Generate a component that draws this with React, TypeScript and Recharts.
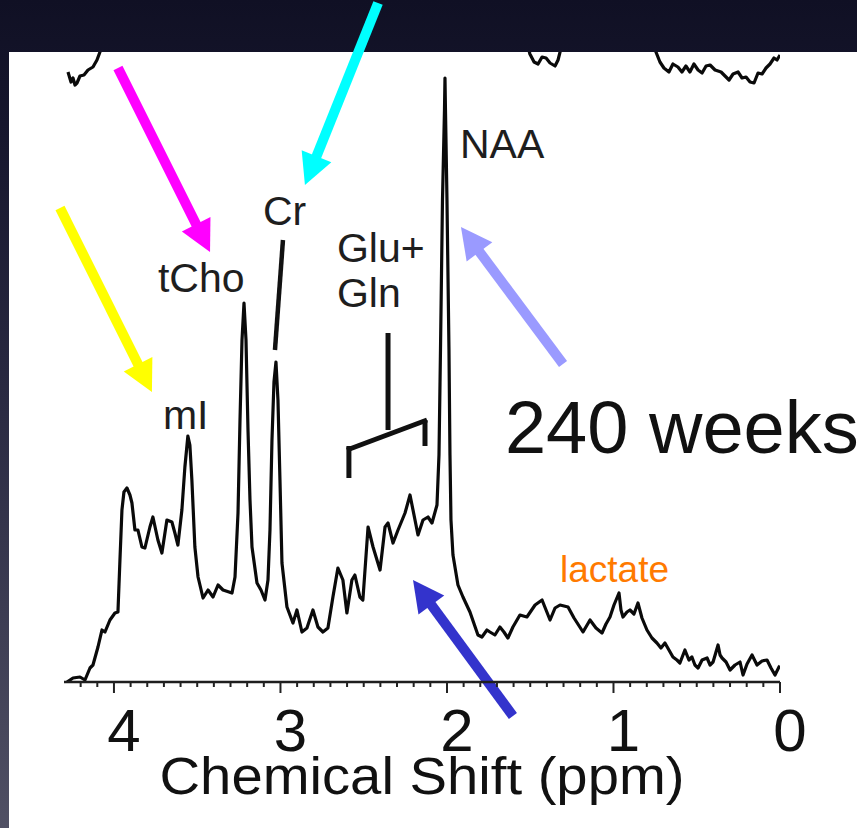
import React from "react";
import { LineChart, Line, XAxis, YAxis, ReferenceLine, ReferenceDot } from "recharts";

const FONT = "'Liberation Sans', Arial, Helvetica, sans-serif";

// 240-week spectrum (chemical shift in ppm, intensity in arbitrary units)
const mainPpm = [
  4.282, 4.246, 4.204, 4.174, 4.144, 4.126, 4.096, 4.072, 4.054, 4.024, 3.994, 3.976, 3.964, 3.952, 3.94, 3.922,
  3.904, 3.892, 3.874, 3.856, 3.832, 3.814, 3.784, 3.766, 3.736, 3.712, 3.682, 3.652, 3.634, 3.616, 3.592, 3.574,
  3.556, 3.544, 3.532, 3.514, 3.495, 3.465, 3.435, 3.405, 3.375, 3.345, 3.291, 3.273, 3.255, 3.243, 3.231, 3.219,
  3.207, 3.195, 3.183, 3.171, 3.141, 3.117, 3.093, 3.075, 3.063, 3.051, 3.039, 3.027, 3.015, 3.003, 2.991, 2.961,
  2.925, 2.901, 2.871, 2.841, 2.805, 2.775, 2.745, 2.715, 2.685, 2.655, 2.625, 2.601, 2.571, 2.553, 2.523, 2.505,
  2.474, 2.444, 2.402, 2.372, 2.354, 2.324, 2.294, 2.252, 2.222, 2.174, 2.144, 2.114, 2.09, 2.06, 2.048, 2.039,
  2.027, 2.015, 2.012, 2.009, 2.0, 1.988, 1.982, 1.976, 1.964, 1.934, 1.904, 1.862, 1.814, 1.79, 1.76, 1.742,
  1.712, 1.682, 1.658, 1.634, 1.604, 1.562, 1.52, 1.471, 1.429, 1.405, 1.381, 1.351, 1.321, 1.273, 1.237, 1.183,
  1.141, 1.105, 1.069, 1.045, 1.021, 0.997, 0.967, 0.955, 0.943, 0.919, 0.901, 0.877, 0.853, 0.829, 0.799, 0.769,
  0.739, 0.715, 0.691, 0.667, 0.643, 0.619, 0.601, 0.571, 0.547, 0.529, 0.511, 0.492, 0.468, 0.438, 0.42, 0.402,
  0.372, 0.36, 0.348, 0.324, 0.3, 0.27, 0.24, 0.222, 0.198, 0.168, 0.138, 0.108, 0.078, 0.054, 0.03, 0.006, 0.0,
];
const mainIntensity = [
  0, 4, 5, 2, 14, 17, 35, 52, 50, 62, 69, 70, 122, 172, 190, 194,
  187, 179, 152, 152, 135, 134, 155, 165, 142, 129, 162, 160, 149, 137, 172, 215,
  246, 237, 202, 135, 105, 84, 92, 85, 97, 92, 89, 105, 169, 262, 342, 379,
  342, 252, 182, 135, 99, 92, 82, 102, 152, 242, 300, 320, 282, 202, 119, 75,
  59, 72, 50, 54, 72, 55, 50, 54, 85, 114, 102, 69, 102, 107, 85, 82,
  155, 135, 112, 155, 159, 139, 152, 169, 187, 147, 162, 165, 159, 177, 227, 332,
  482, 572, 604, 572, 482, 332, 227, 162, 127, 97, 85, 70, 47, 45, 52, 50,
  47, 55, 50, 44, 55, 67, 65, 77, 82, 72, 62, 74, 77, 75, 64, 50,
  62, 54, 49, 58, 65, 77, 89, 72, 65, 70, 72, 68, 79, 64, 52, 44,
  39, 34, 39, 32, 25, 22, 19, 32, 22, 25, 17, 14, 22, 24, 17, 20,
  37, 27, 24, 20, 12, 17, 20, 7, 18, 27, 17, 21, 22, 14, 7, 15, 16,
];

// the stacked spectrum above (only its lowest parts enter the panel)
const upperPpm = [
  4.276, 4.258, 4.246, 4.234, 4.222, 4.204, 4.18, 4.156, 4.126, 4.102, 4.084, 4.066, 4.0, 3.5, 3.0, 2.0,
  1.7, 1.56, 1.52, 1.502, 1.477, 1.453, 1.429, 1.405, 1.381, 1.351, 1.333, 1.321, 1.303, 1.1, 0.8, 0.763,
  0.745, 0.721, 0.697, 0.667, 0.643, 0.613, 0.589, 0.565, 0.541, 0.517, 0.492, 0.468, 0.444, 0.42, 0.39, 0.354,
  0.33, 0.306, 0.282, 0.252, 0.228, 0.204, 0.18, 0.156, 0.132, 0.108, 0.084, 0.06, 0.036, 0.018, 0.0,
];
const upperIntensity = [
  610, 600, 604, 597, 599, 606, 607, 612, 615, 622, 630, 645, 720, 800, 900, 1100,
  700, 660, 640, 628, 620, 618, 625, 624, 619, 616, 622, 630, 645, 680, 660, 642,
  630, 620, 614, 610, 618, 615, 610, 616, 610, 618, 612, 609, 616, 617, 612, 610,
  606, 602, 608, 610, 604, 605, 600, 599, 609, 608, 614, 618, 624, 622, 627,
];

const majorTickLabels = [4, 3, 2, 1, 0];
const minorTicks = [
  0, 0.1, 0.2, 0.3, 0.4, 0.5, 0.6, 0.7, 0.8, 0.9, 1, 1.1, 1.2, 1.3, 1.4, 1.5, 1.6, 1.7, 1.8, 1.9, 2, 2.1,
  2.2, 2.3, 2.4, 2.5, 2.6, 2.7, 2.8, 2.9, 3, 3.1, 3.2, 3.3, 3.4, 3.5, 3.6, 3.7, 3.8, 3.9, 4, 4.1, 4.2,
];

// annotation labels: [text, ppm, intensity (baseline)]
const peakLabels: [string, number, number][] = [
  ["NAA", 1.922, 524],
  ["tCho", 3.736, 390],
  ["Cr", 3.105, 457],
  ["Glu+", 2.661, 420],
  ["Gln", 2.661, 375],
  ["mI", 3.706, 253],
];

// arrows: [tail ppm, tail intensity, tip ppm, tip intensity]
const arrowSegments: [number, number, number, number][] = [
  [4.324, 474, 3.772, 290],
  [3.976, 614, 3.423, 430],
  [2.414, 679, 2.853, 497],
  [1.303, 318, 1.916, 455],
  [1.604, -34, 2.204, 102],
];
const arrowColors = ["#ffff00", "#ff00ff", "#00ffff", "#9a9aff", "#3333cc"];

// Glu+Gln bracket and Cr pointer segments
const bracketSegments: [number, number, number, number][] = [
  [2.354, 349, 2.354, 252],
  [2.601, 232, 2.12, 262],
  [2.589, 236, 2.589, 204],
  [2.132, 262, 2.132, 236],
];
const crPointer: [number, number, number, number] = [2.985, 442, 3.033, 332];

const mainData = mainPpm.map((p, i) => ({ ppm: p, v: mainIntensity[i] }));
const upperData = upperPpm.map((p, i) => ({ ppm: p, v: upperIntensity[i] }));

const Arrow = (props: any) => {
  const { x1, y1, x2, y2, color } = props;
  const dx = x2 - x1;
  const dy = y2 - y1;
  const len = Math.hypot(dx, dy) || 1;
  const ux = dx / len;
  const uy = dy / len;
  const head = 31;
  const hw = 16;
  const bx = x2 - ux * head;
  const by = y2 - uy * head;
  const px = -uy;
  const py = ux;
  return (
    <g>
      <line x1={x1} y1={y1} x2={bx + ux * 3} y2={by + uy * 3} stroke={color} strokeWidth={10} />
      <polygon
        points={`${x2},${y2} ${bx + px * hw},${by + py * hw} ${bx - px * hw},${by - py * hw}`}
        fill={color}
      />
    </g>
  );
};

const AxisTick = (props: any) => {
  const { x, y, payload } = props;
  const v = payload.value;
  const major = Math.abs(v - Math.round(v)) < 1e-6;
  return (
    <g>
      <line x1={x} x2={x} y1={y} y2={y + (major ? 11 : 5)} stroke="#222" strokeWidth={2} />
      {major && majorTickLabels.includes(Math.round(v)) ? (
        <text x={x + 10} y={y + 69} textAnchor="middle" fontSize={60} fill="#111" fontFamily={FONT}>
          {Math.round(v)}
        </text>
      ) : null}
    </g>
  );
};

const AxisTitle = (props: any) => {
  const vb = props.viewBox || { x: 64, y: 682, width: 716 };
  const cx = vb.x + vb.width / 2;
  return (
    <text
      x={cx}
      y={vb.y + 112}
      textAnchor="middle"
      fontSize={51}
      fill="#111"
      fontFamily={FONT}
      textLength={525}
      lengthAdjust="spacingAndGlyphs"
    >
      Chemical Shift (ppm)
    </text>
  );
};

export default function App() {
  return (
    <div
      style={{
        position: "absolute",
        left: 0,
        top: 0,
        width: 857,
        height: 828,
        overflow: "hidden",
        background: "linear-gradient(180deg, #101024 0%, #16162d 15%, #2b2b43 50%, #505064 100%)",
      }}
    >
      <div style={{ position: "absolute", left: 9, top: 52, width: 848, height: 776, background: "#ffffff" }} />
      <div style={{ position: "absolute", left: 0, top: 0 }}>
        <LineChart width={857} height={828} margin={{ top: 52, right: 77, bottom: 0, left: 64 }}>
          <XAxis
            type="number"
            dataKey="ppm"
            domain={[0, 4.3]}
            reversed
            allowDataOverflow
            ticks={minorTicks}
            interval={0}
            tickSize={0}
            tickMargin={0}
            tickLine={false}
            axisLine={{ stroke: "#1e1e1e", strokeWidth: 2.5 }}
            tick={<AxisTick />}
            height={146}
            label={{ content: (p: any) => <AxisTitle {...p} /> }}
          />
          <YAxis type="number" domain={[0, 630]} allowDataOverflow hide />
          <Line
            data={upperData}
            dataKey="v"
            type="linear"
            stroke="#0a0a0a"
            strokeWidth={3.2}
            dot={false}
            activeDot={false}
            isAnimationActive={false}
            strokeLinejoin="round"
          />
          <Line
            data={mainData}
            dataKey="v"
            type="linear"
            stroke="#0a0a0a"
            strokeWidth={3.2}
            dot={false}
            activeDot={false}
            isAnimationActive={false}
            strokeLinejoin="round"
          />
          {bracketSegments.map((s, i) => (
            <ReferenceLine
              key={"b" + i}
              segment={[
                { x: s[0], y: s[1] },
                { x: s[2], y: s[3] },
              ]}
              stroke="#111"
              strokeWidth={5}
              ifOverflow="visible"
            />
          ))}
          <ReferenceLine
            segment={[
              { x: crPointer[0], y: crPointer[1] },
              { x: crPointer[2], y: crPointer[3] },
            ]}
            stroke="#111"
            strokeWidth={4.5}
            ifOverflow="visible"
          />
          {peakLabels.map(([t, p, v]) => (
            <ReferenceDot
              key={t}
              x={p}
              y={v}
              r={1}
              ifOverflow="visible"
              shape={(sp: any) => (
                <text x={sp.cx} y={sp.cy} fontSize={41} fill="#1e1e1e" fontFamily={FONT}>
                  {t}
                </text>
              )}
            />
          ))}
          <ReferenceDot
            x={1.652}
            y={229}
            r={1}
            ifOverflow="visible"
            shape={(sp: any) => (
              <text x={sp.cx} y={sp.cy} fontSize={74} fill="#111" fontFamily={FONT}>
                240 weeks
              </text>
            )}
          />
          <ReferenceDot
            x={1.321}
            y={100}
            r={1}
            ifOverflow="visible"
            shape={(sp: any) => (
              <text x={sp.cx} y={sp.cy} fontSize={37} fill="#ff7a00" fontFamily={FONT}>
                lactate
              </text>
            )}
          />
          {arrowSegments.map((s, i) => (
            <ReferenceLine
              key={"a" + i}
              segment={[
                { x: s[0], y: s[1] },
                { x: s[2], y: s[3] },
              ]}
              ifOverflow="visible"
              shape={(lp: any) => <Arrow {...lp} color={arrowColors[i]} />}
            />
          ))}
        </LineChart>
      </div>
    </div>
  );
}
